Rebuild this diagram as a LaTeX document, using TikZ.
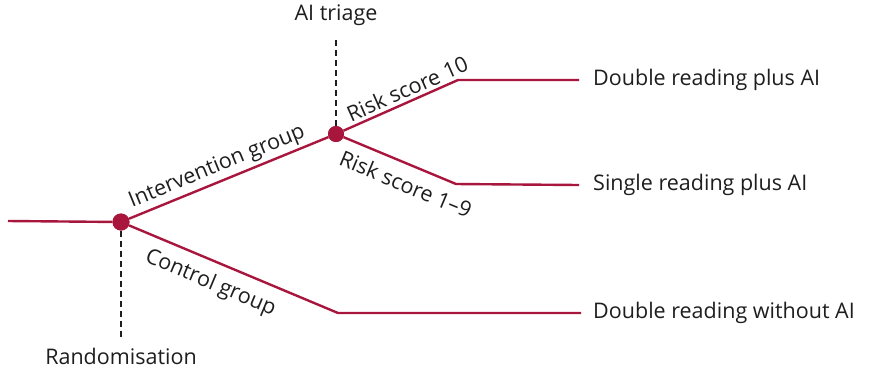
\documentclass[tikz,border=0pt]{standalone}
\usepackage{fontspec}
\setmainfont{Open Sans}
\definecolor{crim}{RGB}{168,22,62}
\definecolor{ink}{RGB}{30,30,30}
\begin{document}
\begin{tikzpicture}[x=1pt,y=1pt,
  branch/.style={draw=crim,line width=2.4pt},
  dotnode/.style={circle,fill=crim,inner sep=0pt,minimum size=17pt},
  guide/.style={draw=ink,line width=1.3pt,dash pattern=on 6pt off 4pt},
  lbl/.style={font=\fontsize{21.5}{24}\selectfont,text=ink,inner sep=0pt},
  endlbl/.style={lbl,anchor=west},
  along/.style={lbl,sloped,inner sep=4pt},
  alongbelow/.style={lbl,sloped,below,inner sep=11pt}]
\useasboundingbox (0,0) rectangle (874,-373);
\coordinate (start) at (8,-221);
\node[dotnode] (rand) at (121,-222) {};
\node[dotnode,minimum size=16pt] (tri) at (336,-134) {};
\coordinate (k10) at (458,-80);
\coordinate (k19) at (456,-184);
\coordinate (kc) at (338,-313);
\node[endlbl] (o1) at (593,-80) {Double reading plus AI};
\node[endlbl] (o2) at (593,-185) {Single reading plus AI};
\node[endlbl] (o3) at (593,-313) {Double reading without AI};
\node[lbl] (tlab) at (336,-15) {AI triage};
\node[lbl] (rlab) at (121,-356) {Randomisation};
\coordinate (ttop) at (336,-38);
\coordinate (rbot) at (121,-340);
\draw[guide] (tri) -- (ttop);
\draw[guide] (rand) -- (rbot);
\draw[branch] (start) -- (rand);
\draw[branch] (rand) -- (tri);
\draw[branch] (tri) -- (k10) -- ([xshift=-14pt]o1.west);
\draw[branch] (tri) -- (k19) -- ([xshift=-14pt]o2.west);
\draw[branch] (rand) -- (kc) -- ([xshift=-12pt]o3.west);
\node[dotnode] at (rand) {};
\node[dotnode,minimum size=16pt] at (tri) {};
\path (rand) -- (tri) node[along,above,pos=0.47] (ig) {Intervention group};
\path (rand) -- (kc) node[alongbelow,pos=0.43] (cg) {Control group};
\path (tri) -- (k10) node[along,above,pos=0.6] (r10) {Risk score 10};
\path (tri) -- (k19) node[alongbelow,pos=0.62] (r19) {Risk score 1–9};
\end{tikzpicture}
\end{document}
